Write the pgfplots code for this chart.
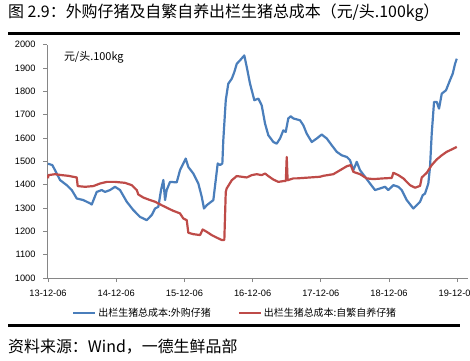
\documentclass[border=0pt]{standalone}
\usepackage{fontspec}
\setmainfont{Liberation Sans}
\newfontfamily\cjk{Noto Sans CJK SC}
\usepackage{pgfplots}
\pgfplotsset{compat=1.18}
\definecolor{xblue}{HTML}{4A7EBB}
\definecolor{xred}{HTML}{BE4B48}
\definecolor{axgray}{HTML}{868686}
\begin{document}
\begin{tikzpicture}[x=1bp,y=1bp]
\path[use as bounding box] (0,0) rectangle (470,-360);
\node[anchor=west,inner sep=0pt] at (8,-13) {\cjk\fontsize{16}{16}\selectfont 图 2.9：外购仔猪及自繁自养出栏生猪总成本（元/头.100kg）};
\draw[line width=3bp] (8,-33) -- (460,-33);
\draw[line width=3bp] (8,-325) -- (460,-325);
\node[anchor=west,inner sep=0pt] at (8,-347) {\cjk\fontsize{16}{16}\selectfont 资料来源：Wind，一德生鲜品部};
\begin{axis}[
  at={(47bp,-278bp)}, anchor=south west,
  scale only axis, width=421bp, height=233.3bp,
  xmin=-0.015, xmax=6.158, ymin=1000, ymax=2000,
  axis x line=bottom, axis y line=left,
  axis line style={-, axgray, line width=0.8bp},
  xtick={0,1,2,3,4,5,6},
  xticklabels={13-12-06,14-12-06,15-12-06,16-12-06,17-12-06,18-12-06,19-12-06},
  ytick={1000,1100,...,2000},
  tick style={axgray, line width=0.8bp},
  major tick length=4bp,
  tick align=outside,
  /pgf/number format/assume math mode=true,
  /pgf/number format/1000 sep={},
  ticklabel style={font=\fontsize{9.3}{10}\selectfont, text=black},
  xticklabel style={yshift=-4bp},
  yticklabel style={xshift=-4bp},
  legend columns=2,
  legend style={draw=none, fill=none, at={(0.447,-0.15)}, anchor=center,
    font=\cjk\fontsize{10}{12}\selectfont,
    /tikz/every even column/.append style={column sep=25bp}},
  legend image code/.code={\draw[#1, line width=2.2bp] (0bp,0bp) -- (22bp,0bp);},
]
\addplot[xblue, line width=2.2bp, line join=round] coordinates {
(0.000,1490)(0.063,1484)(0.103,1462)(0.176,1420)(0.274,1398)(0.348,1377)(0.421,1341)(0.518,1334)(0.616,1320)(0.641,1315)
(0.714,1369)(0.787,1377)(0.836,1369)(0.909,1377)(0.982,1391)(1.056,1377)(1.154,1327)(1.251,1291)(1.349,1262)(1.447,1248)
(1.521,1270)(1.569,1298)(1.617,1305)(1.657,1377)(1.691,1420)(1.716,1334)(1.740,1377)(1.789,1412)(1.887,1410)(1.935,1462)
(1.984,1491)(2.019,1512)(2.057,1476)(2.130,1448)(2.204,1405)(2.254,1348)(2.287,1298)(2.327,1312)(2.424,1334)(2.488,1491)
(2.522,1484)(2.556,1491)(2.570,1591)(2.606,1762)(2.643,1833)(2.694,1854)(2.732,1883)(2.767,1918)(2.815,1933)(2.878,1954)
(2.914,1904)(2.962,1833)(3.025,1762)(3.084,1769)(3.133,1740)(3.182,1662)(3.230,1612)(3.304,1583)(3.353,1576)(3.402,1598)
(3.450,1633)(3.485,1626)(3.523,1684)(3.559,1693)(3.597,1684)(3.695,1676)(3.743,1655)(3.793,1619)(3.867,1583)(3.940,1598)
(4.013,1615)(4.087,1598)(4.160,1569)(4.233,1541)(4.306,1526)(4.380,1519)(4.428,1505)(4.477,1462)(4.526,1498)(4.575,1462)
(4.648,1434)(4.721,1405)(4.795,1377)(4.868,1384)(4.941,1391)(4.990,1377)(5.063,1398)(5.136,1391)(5.186,1377)(5.260,1334)
(5.356,1298)(5.406,1312)(5.455,1327)(5.494,1355)(5.528,1362)(5.576,1405)(5.601,1476)(5.626,1619)(5.660,1755)(5.699,1755)
(5.733,1726)(5.773,1790)(5.836,1805)(5.894,1848)(5.934,1876)(5.968,1918)(5.993,1940)
};
\addlegendentry{出栏生猪总成本:外购仔猪}
\addplot[xred, line width=2.2bp, line join=round] coordinates {
(0.000,1427)(0.005,1441)(0.103,1445)(0.201,1441)(0.298,1438)(0.421,1431)(0.435,1394)(0.543,1391)(0.664,1394)(0.762,1405)
(0.861,1412)(0.982,1412)(1.129,1408)(1.227,1398)(1.301,1377)(1.324,1358)(1.397,1345)(1.496,1334)(1.569,1327)(1.667,1312)
(1.764,1298)(1.837,1288)(1.935,1277)(1.984,1255)(2.034,1248)(2.057,1194)(2.130,1188)(2.229,1184)(2.268,1208)(2.327,1198)
(2.400,1184)(2.474,1173)(2.547,1163)(2.585,1163)(2.606,1369)(2.620,1384)(2.694,1419)(2.767,1437)(2.840,1434)(2.914,1431)
(2.987,1441)(3.060,1445)(3.133,1441)(3.182,1448)(3.230,1437)(3.304,1422)(3.377,1412)(3.465,1416)(3.487,1416)(3.500,1519)
(3.513,1419)(3.597,1427)(3.647,1427)(3.842,1431)(3.988,1434)(4.036,1438)(4.183,1445)(4.282,1462)(4.380,1479)(4.438,1484)
(4.477,1455)(4.575,1445)(4.673,1427)(4.770,1424)(4.916,1427)(5.040,1429)(5.063,1451)(5.136,1441)(5.210,1427)(5.308,1398)
(5.381,1387)(5.455,1395)(5.480,1431)(5.553,1451)(5.626,1484)(5.699,1508)(5.773,1526)(5.846,1541)(5.919,1551)(5.993,1562)
};
\addlegendentry{出栏生猪总成本:自繁自养仔猪}
\node[anchor=west, inner sep=0pt, font=\cjk\fontsize{11}{11}\selectfont] at (rel axis cs:0.04,0.945) {元/头.100kg};
\end{axis}
\end{tikzpicture}
\end{document}
